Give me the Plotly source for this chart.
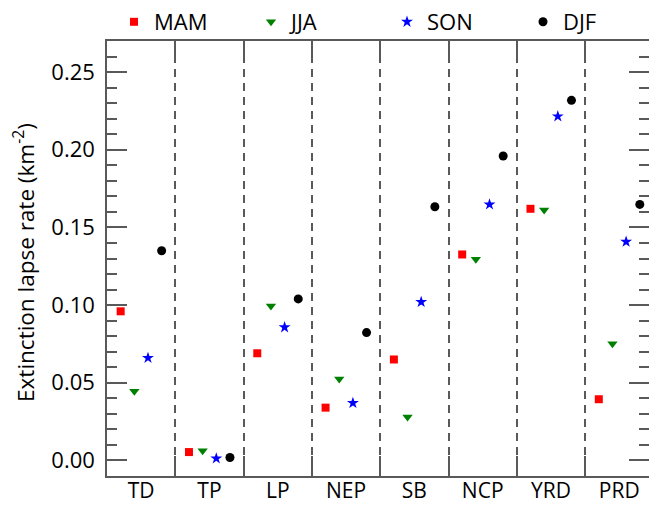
import plotly.graph_objects as go

regions = ["TD", "TP", "LP", "NEP", "SB", "NCP", "YRD", "PRD"]
seasons = ["MAM", "JJA", "SON", "DJF"]
mam = [0.096, 0.0054, 0.069, 0.034, 0.065, 0.1326, 0.162, 0.0394]
jja = [0.0445, 0.0062, 0.0995, 0.0524, 0.028, 0.1295, 0.1612, 0.0752]
son = [0.066, 0.0013, 0.0857, 0.037, 0.102, 0.1648, 0.2215, 0.1408]
djf = [0.135, 0.0019, 0.104, 0.0823, 0.1633, 0.196, 0.2318, 0.1648]
y_ticks = [0.00, 0.05, 0.10, 0.15, 0.20, 0.25]

series = [mam, jja, son, djf]
offsets = [-0.3, -0.1, 0.1, 0.3]
symbols = ["square", "triangle-down", "star", "circle"]
colors = ["#ff0000", "#008000", "#0000ff", "#000000"]
sizes = [8, 9, 9, 9]
legend_ids = ["legend", "legend2", "legend3", "legend4"]
legend_left_px = [114, 251, 387, 523]

FONT = "Open Sans"
AX = "#595959"
W, H = 649, 505

fig = go.Figure()
for name, vals, off, sym, col, sz, lid in zip(seasons, series, offsets, symbols, colors, sizes, legend_ids):
    fig.add_trace(go.Scatter(
        x=[i + 1 + off for i in range(len(regions))],
        y=vals,
        mode="markers",
        name=name,
        legend=lid,
        marker=dict(symbol=sym, color=col, size=sz, line=dict(width=0)),
    ))

legend_layout = {}
for lid, lx in zip(legend_ids, legend_left_px):
    legend_layout[lid] = dict(
        orientation="h", xref="container", yref="container",
        x=lx / W, xanchor="left", y=1 - 22 / H, yanchor="middle",
        itemwidth=30, font=dict(family=FONT, size=22),
        bgcolor="rgba(0,0,0,0)", borderwidth=0,
    )

fig.update_layout(
    width=W, height=H,
    margin=dict(l=107, r=0, t=41, b=29, autoexpand=False),
    paper_bgcolor="white", plot_bgcolor="white",
    font=dict(family=FONT, size=22, color="#000000"),
    showlegend=True,
    xaxis=dict(
        range=[0.5, 8.435],
        tickmode="array", tickvals=list(range(1, len(regions) + 1)), ticktext=regions,
        ticks="", showgrid=False, zeroline=False,
        showline=True, linecolor=AX, linewidth=1.5, mirror="ticks",
        tickfont=dict(size=21), ticklabelstandoff=-5,
        minor=dict(
            tickmode="array", tickvals=[i + 1.5 for i in range(len(regions) - 1)],
            ticks="inside", ticklen=20, tickwidth=1.5, tickcolor=AX,
            showgrid=True, gridcolor=AX, gridwidth=1.5, griddash="8px,6px",
        ),
    ),
    yaxis=dict(
        range=[-0.01, 0.27],
        tickmode="array", tickvals=y_ticks, tickformat=".2f",
        ticks="inside", ticklen=20, tickwidth=1.5, tickcolor=AX,
        showgrid=False, zeroline=False,
        showline=True, linecolor=AX, linewidth=1.5, mirror="ticks",
        tickfont=dict(size=22), ticklabelstandoff=6,
        minor=dict(dtick=0.01, ticks="inside", ticklen=10, tickwidth=1.5, tickcolor=AX, showgrid=False),
    ),
    annotations=[dict(
        text="Extinction lapse rate (km<sup>-2</sup>)",
        xref="paper", yref="paper", x=-0.153, y=0.49,
        xanchor="center", yanchor="middle", textangle=-90, showarrow=False,
        font=dict(family=FONT, size=22.5),
    )],
    **legend_layout,
)

fig.write_html("out.html")
